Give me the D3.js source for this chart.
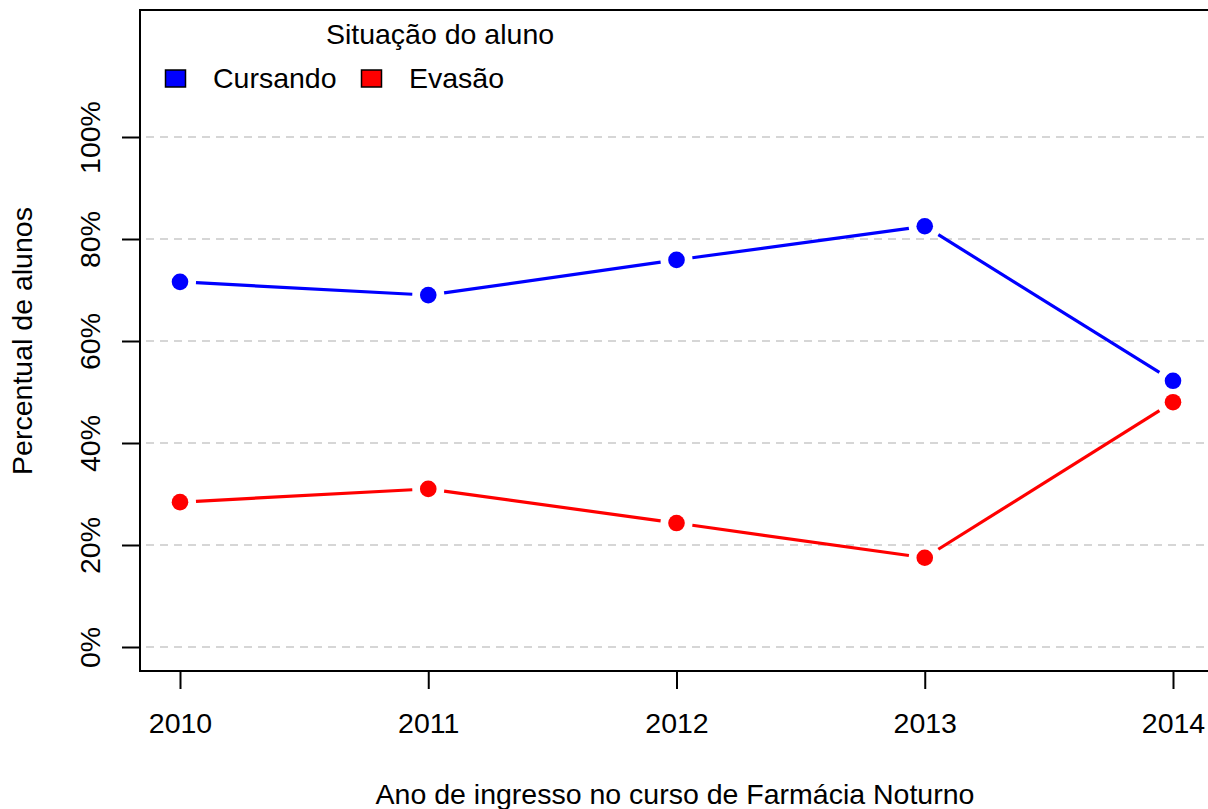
<!DOCTYPE html>
<html>
<head>
<meta charset="utf-8">
<script src="https://cdn.jsdelivr.net/npm/d3@7"></script>
<style>
  body { margin: 0; background: #fff; }
  svg { display: block; font-family: "Liberation Sans", Arial, sans-serif; }
</style>
</head>
<body>
<div class="chart"></div>
<script>
var years = [2010, 2011, 2012, 2013, 2014];
var cursando = [71.6, 69.0, 75.9, 82.5, 52.2];
var evasao = [28.4, 31.0, 24.3, 17.5, 48.0];
var yTicks = [0, 20, 40, 60, 80, 100];
var seriesNames = ["Cursando", "Evasão"];
var seriesColors = ["#0000ff", "#ff0000"];

var width = 1208, height = 809;
var box = { left: 140, top: 10, right: 1216, bottom: 671 };
var fontSize = 28.5;

var svg = d3.select(".chart").append("svg")
    .attr("width", width)
    .attr("height", height);

var x = d3.scaleLinear().domain([2010, 2014]).range([180, 1173]);
var y = d3.scaleLinear().domain([0, 100]).range([647, 137]);

// dashed grid lines
svg.append("g").selectAll("line")
    .data(yTicks)
    .join("line")
    .attr("x1", box.left + 6)
    .attr("x2", 1204)
    .attr("y1", function(d) { return y(d); })
    .attr("y2", function(d) { return y(d); })
    .attr("stroke", "#d6d6d6")
    .attr("stroke-width", 2)
    .attr("stroke-dasharray", "8,6");

// series lines with gaps around points (type = "b")
var gap = 16;
var series = [cursando, evasao];
series.forEach(function(vals, s) {
  var g = svg.append("g");
  var segs = d3.range(vals.length - 1).map(function(i) {
    return [x(years[i]), y(vals[i]), x(years[i + 1]), y(vals[i + 1])];
  });
  g.selectAll("line")
    .data(segs)
    .join("line")
    .each(function(d) {
      var dx = d[2] - d[0], dy = d[3] - d[1];
      var len = Math.sqrt(dx * dx + dy * dy);
      var ux = dx / len, uy = dy / len;
      d3.select(this)
        .attr("x1", d[0] + ux * gap)
        .attr("y1", d[1] + uy * gap)
        .attr("x2", d[2] - ux * gap)
        .attr("y2", d[3] - uy * gap);
    })
    .attr("stroke", seriesColors[s])
    .attr("stroke-width", 3.2);
  g.selectAll("circle")
    .data(vals)
    .join("circle")
    .attr("cx", function(d, i) { return x(years[i]); })
    .attr("cy", function(d) { return y(d); })
    .attr("r", 8.3)
    .attr("fill", seriesColors[s]);
});

// plot box
svg.append("rect")
    .attr("x", box.left)
    .attr("y", box.top)
    .attr("width", box.right - box.left)
    .attr("height", box.bottom - box.top)
    .attr("fill", "none")
    .attr("stroke", "#000")
    .attr("stroke-width", 2);

// x axis
var xAxis = d3.axisBottom(x)
    .tickValues(years)
    .tickFormat(d3.format("d"))
    .tickSize(18)
    .tickPadding(24);
var xAxisEl = svg.append("g")
    .attr("transform", "translate(0," + box.bottom + ")")
    .call(xAxis);
xAxisEl.select(".domain").remove();
xAxisEl.selectAll("line").attr("stroke", "#000").attr("stroke-width", 2);
xAxisEl.selectAll("text")
    .attr("font-size", fontSize)
    .attr("font-family", "Liberation Sans, Arial, sans-serif")
    .attr("fill", "#000");

// y axis
var yAxis = d3.axisLeft(y)
    .tickValues(yTicks)
    .tickFormat(function(d) { return d + "%"; })
    .tickSize(18);
var yAxisEl = svg.append("g")
    .attr("transform", "translate(" + box.left + ",0)")
    .call(yAxis);
yAxisEl.select(".domain").remove();
yAxisEl.selectAll("line").attr("stroke", "#000").attr("stroke-width", 2);
yAxisEl.selectAll("text")
    .attr("font-size", fontSize)
    .attr("font-family", "Liberation Sans, Arial, sans-serif")
    .attr("fill", "#000")
    .attr("x", null)
    .attr("dy", null)
    .attr("text-anchor", "middle")
    .attr("transform", "translate(-40,0) rotate(-90)");

// axis titles
svg.append("text")
    .attr("x", 675)
    .attr("y", 804)
    .attr("text-anchor", "middle")
    .attr("font-size", fontSize)
    .text("Ano de ingresso no curso de Farmácia Noturno");
svg.append("text")
    .attr("transform", "translate(32,341) rotate(-90)")
    .attr("text-anchor", "middle")
    .attr("font-size", fontSize)
    .text("Percentual de alunos");

// legend
var legend = svg.append("g");
legend.append("text")
    .attr("x", 440)
    .attr("y", 44)
    .attr("text-anchor", "middle")
    .attr("font-size", fontSize)
    .text("Situação do aluno");
var legendX = [165, 361];
var item = legend.selectAll("g.item")
    .data(seriesNames)
    .join("g")
    .attr("class", "item")
    .attr("transform", function(d, i) { return "translate(" + legendX[i] + ",0)"; });
item.append("rect")
    .attr("x", 0.5)
    .attr("y", 70)
    .attr("width", 20)
    .attr("height", 17)
    .attr("fill", function(d, i) { return seriesColors[i]; })
    .attr("stroke", "#000")
    .attr("stroke-width", 1.5);
item.append("text")
    .attr("x", 48)
    .attr("y", 88)
    .attr("font-size", fontSize)
    .text(function(d) { return d; });
</script>
</body>
</html>
